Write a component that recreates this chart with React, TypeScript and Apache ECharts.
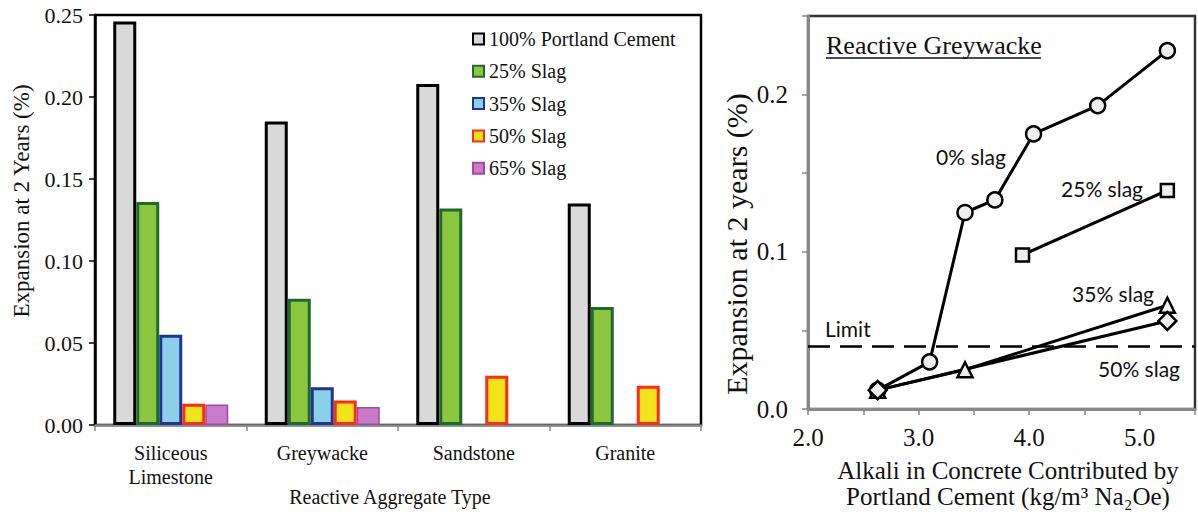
import React, { useEffect, useRef } from "react";
import * as echarts from "echarts";

// ---------- Left chart data ----------
const categories = ["Siliceous\nLimestone", "Greywacke", "Sandstone", "Granite"];
const seriesNames = ["100% Portland Cement", "25% Slag", "35% Slag", "50% Slag", "65% Slag"];
const portland = [0.246, 0.185, 0.208, 0.135];
const slag25 = [0.136, 0.077, 0.132, 0.072];
const slag35 = [0.055, 0.023, null, null];
const slag50 = [0.013, 0.015, 0.030, 0.024];
const slag65 = [0.0125, 0.011, null, null];

// ---------- Right chart data ----------
const slag0Pts = [[2.63, 0.012], [3.10, 0.030], [3.42, 0.125], [3.69, 0.133], [4.04, 0.175], [4.62, 0.193], [5.25, 0.228]];
const slag25Pts = [[3.94, 0.098], [5.25, 0.139]];
const slag35Pts = [[2.63, 0.012], [3.42, 0.025], [5.25, 0.066]];
const slag50Pts = [[2.63, 0.012], [5.25, 0.056]];
const limitValue = 0.04;

const SERIF = "Liberation Serif";
const SANS = "Lato";

export default function App() {
  const ref = useRef<HTMLDivElement>(null);
  useEffect(() => {
    if (!ref.current) return;
    const chart = echarts.init(ref.current, undefined, { renderer: "svg" });

    const barStyles = [
      { color: "#d9d9d9", borderColor: "#000000", borderWidth: 3 },
      { color: "#8cc63f", borderColor: "#1d6b2c", borderWidth: 3 },
      { color: "#8ccfe8", borderColor: "#1f3590", borderWidth: 3 },
      { color: "#f2e41a", borderColor: "#ff2a1a", borderWidth: 3 },
      { color: "#c97ac8", borderColor: "#a04aa0", borderWidth: 1.5 },
    ];
    const barData = [portland, slag25, slag35, slag50, slag65];

    const markerStyle = { color: "#eeeeee", borderColor: "#000", borderWidth: 2.5 };
    const lineStyle = { color: "#000", width: 3 };

    const option: any = {
      animation: false,
      backgroundColor: "#ffffff",
      grid: [
        { left: 95, top: 15, width: 606, height: 410, show: true, borderColor: "#000", borderWidth: 2.5, backgroundColor: "transparent" },
        { left: 808, top: 16, width: 397, height: 393, show: true, borderColor: "#333", borderWidth: 2.5, backgroundColor: "transparent" },
      ],
      legend: {
        orient: "vertical",
        left: 467,
        top: 24,
        itemGap: 12.3,
        itemWidth: 11,
        itemHeight: 11,
        icon: "rect",
        data: seriesNames,
        textStyle: { fontFamily: SERIF, fontSize: 20, color: "#111" },
      },
      xAxis: [
        {
          type: "category",
          gridIndex: 0,
          data: categories,
          axisLine: { lineStyle: { color: "#888", width: 2.5 } },
          axisTick: { show: true, length: 6, lineStyle: { color: "#888", width: 1.5 } },
          axisLabel: { fontFamily: SERIF, fontSize: 20, color: "#111", lineHeight: 24, margin: 16 },
        },
        {
          type: "value",
          gridIndex: 1,
          min: 2,
          max: 5.5,
          interval: 0.5,
          splitLine: { show: false },
          axisLine: { lineStyle: { color: "#888", width: 3 } },
          axisTick: { show: true, length: 6, lineStyle: { color: "#888", width: 1.5 } },
          axisLabel: {
            fontFamily: SERIF,
            fontSize: 25,
            color: "#111",
            margin: 16,
            formatter: (v: number) => (Math.abs(v - Math.round(v)) < 1e-6 && v < 5.4 ? v.toFixed(1) : ""),
          },
        },
      ],
      yAxis: [
        {
          type: "value",
          gridIndex: 0,
          min: 0,
          max: 0.25,
          interval: 0.05,
          splitLine: { show: false },
          axisLine: { show: true, lineStyle: { color: "#000", width: 2.5 } },
          axisTick: { show: true, length: 6, lineStyle: { color: "#000", width: 1.5 } },
          axisLabel: { fontFamily: SERIF, fontSize: 22, color: "#111", margin: 12, formatter: (v: number) => v.toFixed(2) },
        },
        {
          type: "value",
          gridIndex: 1,
          min: 0,
          max: 0.25,
          interval: 0.05,
          splitLine: { show: false },
          axisLine: { show: true, lineStyle: { color: "#888", width: 3 } },
          axisTick: { show: true, length: 6, lineStyle: { color: "#888", width: 1.5 } },
          axisLabel: {
            fontFamily: SERIF,
            fontSize: 25,
            color: "#111",
            margin: 20,
            formatter: (v: number) => {
              const t = v * 10;
              return Math.abs(t - Math.round(t)) < 1e-6 && v < 0.24 ? v.toFixed(1) : "";
            },
          },
        },
      ],
      series: [
        ...barData.map((d, i) => ({
          name: seriesNames[i],
          type: "bar",
          xAxisIndex: 0,
          yAxisIndex: 0,
          data: d,
          barWidth: 23,
          barGap: "0%",
          itemStyle: barStyles[i],
        })),
        {
          name: "0% slag",
          type: "line",
          xAxisIndex: 1,
          yAxisIndex: 1,
          data: slag0Pts,
          symbol: "circle",
          symbolSize: 15,
          lineStyle,
          itemStyle: markerStyle,
          markLine: {
            silent: true,
            symbol: "none",
            label: { show: false },
            lineStyle: { color: "#000", width: 2.5, type: [22, 10] },
            data: [{ yAxis: limitValue }],
          },
        },
        {
          name: "25% slag",
          type: "line",
          xAxisIndex: 1,
          yAxisIndex: 1,
          data: slag25Pts,
          symbol: "rect",
          symbolSize: 13,
          lineStyle,
          itemStyle: markerStyle,
        },
        {
          name: "35% slag",
          type: "line",
          xAxisIndex: 1,
          yAxisIndex: 1,
          data: slag35Pts,
          symbol: "triangle",
          symbolSize: 15,
          lineStyle,
          itemStyle: markerStyle,
        },
        {
          name: "50% slag",
          type: "line",
          xAxisIndex: 1,
          yAxisIndex: 1,
          data: slag50Pts,
          symbol: "diamond",
          symbolSize: 18,
          lineStyle,
          itemStyle: markerStyle,
        },
      ],
      graphic: [
        { type: "text", x: 21, y: 201, rotation: Math.PI / 2, style: { text: "Expansion at 2 Years (%)", font: `23px ${SERIF}`, fill: "#111", textAlign: "center", textVerticalAlign: "middle" } },
        { type: "text", x: 390, y: 497, style: { text: "Reactive Aggregate Type", font: `20px ${SERIF}`, fill: "#111", textAlign: "center", textVerticalAlign: "middle" } },
        { type: "text", x: 736, y: 244, rotation: Math.PI / 2, style: { text: "Expansion at 2 years (%)", font: `30px ${SERIF}`, fill: "#111", textAlign: "center", textVerticalAlign: "middle" } },
        {
          type: "text",
          x: 1008,
          y: 483,
          style: {
            text: "Alkali in Concrete Contributed by\nPortland Cement (kg/m³ Na₂Oe)",
            font: `25px ${SERIF}`,
            lineHeight: 26,
            fill: "#111",
            textAlign: "center",
            textVerticalAlign: "middle",
          },
        },
        { type: "text", x: 826, y: 45, style: { text: "Reactive Greywacke", font: `26px ${SERIF}`, fill: "#111", textAlign: "left", textVerticalAlign: "middle" } },
        { type: "line", shape: { x1: 826, y1: 58, x2: 1041, y2: 58 }, style: { stroke: "#111", lineWidth: 1.5 } },
        { type: "text", x: 971, y: 156, style: { text: "0% slag", font: `21px ${SANS}`, fill: "#111", textAlign: "center", textVerticalAlign: "middle" } },
        { type: "text", x: 1102, y: 188, style: { text: "25% slag", font: `21px ${SANS}`, fill: "#111", textAlign: "center", textVerticalAlign: "middle" } },
        { type: "text", x: 1113, y: 293, style: { text: "35% slag", font: `21px ${SANS}`, fill: "#111", textAlign: "center", textVerticalAlign: "middle" } },
        { type: "text", x: 1139, y: 368, style: { text: "50% slag", font: `21px ${SANS}`, fill: "#111", textAlign: "center", textVerticalAlign: "middle" } },
        { type: "text", x: 825, y: 328, style: { text: "Limit", font: `21px ${SANS}`, fill: "#111", textAlign: "left", textVerticalAlign: "middle" } },
      ],
    };
    chart.setOption(option);
    return () => chart.dispose();
  }, []);
  return <div ref={ref} style={{ position: "absolute", left: 0, top: 0, width: 1198, height: 514 }} />;
}
